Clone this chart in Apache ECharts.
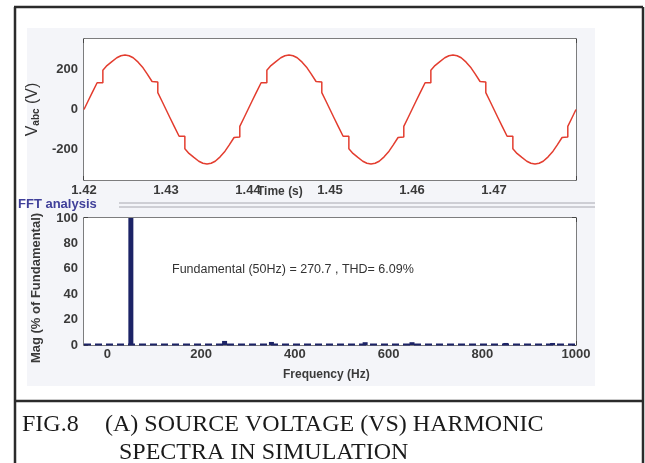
<!DOCTYPE html>
<html><head><meta charset="utf-8">
<script src="https://cdn.jsdelivr.net/npm/echarts@6/dist/echarts.min.js"></script>
<style>html,body{margin:0;padding:0;background:#fff}#c{width:645px;height:463px}</style>
</head><body><div id="c"></div>
<script>
// ---- Data: top plot, source voltage Vabc (V) vs time (s) ----
const timeS = [
1.4200,1.4205,1.4210,1.4216,1.4223,1.4223,1.4228,1.4234,1.4240,1.4245,1.4250,1.4255,1.4260,1.4266,1.4272,1.4277,1.4283,1.4290,1.4290,1.4295,
1.4300,1.4305,1.4310,1.4316,1.4323,1.4323,1.4328,1.4334,1.4340,1.4345,1.4350,1.4355,1.4360,1.4366,1.4372,1.4377,1.4383,1.4390,1.4390,1.4395,
1.4400,1.4405,1.4410,1.4416,1.4423,1.4423,1.4428,1.4434,1.4440,1.4445,1.4450,1.4455,1.4460,1.4466,1.4472,1.4477,1.4483,1.4490,1.4490,1.4495,
1.4500,1.4505,1.4510,1.4516,1.4523,1.4523,1.4528,1.4534,1.4540,1.4545,1.4550,1.4555,1.4560,1.4566,1.4572,1.4577,1.4583,1.4590,1.4590,1.4595,
1.4600,1.4605,1.4610,1.4616,1.4623,1.4623,1.4628,1.4634,1.4640,1.4645,1.4650,1.4655,1.4660,1.4666,1.4672,1.4677,1.4683,1.4690,1.4690,1.4695,
1.4700,1.4705,1.4710,1.4716,1.4723,1.4723,1.4728,1.4734,1.4740,1.4745,1.4750,1.4755,1.4760,1.4766,1.4772,1.4777,1.4783,1.4790,1.4790,1.4795,
1.4800];
const vabc = [
0,42,84,133,133,195,218,238,257,267,271,267,257,235,207,177,139,137,84,42,
0,-42,-84,-133,-133,-195,-218,-238,-257,-267,-271,-267,-257,-235,-207,-177,-139,-137,-84,-42,
0,42,84,133,133,195,218,238,257,267,271,267,257,235,207,177,139,137,84,42,
0,-42,-84,-133,-133,-195,-218,-238,-257,-267,-271,-267,-257,-235,-207,-177,-139,-137,-84,-42,
0,42,84,133,133,195,218,238,257,267,271,267,257,235,207,177,139,137,84,42,
0,-42,-84,-133,-133,-195,-218,-238,-257,-267,-271,-267,-257,-235,-207,-177,-139,-137,-84,-42,
0];
const timeTicks = [1.42,1.43,1.44,1.45,1.46,1.47,1.48];
const timeLabelTicks = [1.42,1.43,1.44,1.45,1.46,1.47];
const voltTicks = [-200,0,200];

// ---- Data: bottom plot, FFT spectrum ----
const harmHz  = [50, 250, 350, 550, 650, 850, 950];
const harmMag = [100, 3.2, 2.4, 2.2, 2.2, 1.6, 1.6];
const baseHz  = [-50, 1000];
const baseMag = [0.4, 0.4];
const freqTicks = [0,200,400,600,800,1000];
const magTicks = [0,20,40,60,80,100];
const fftNote = 'Fundamental (50Hz) = 270.7 , THD= 6.09%';
const caption1a = 'FIG.8';
const caption1b = '(A) SOURCE VOLTAGE (VS) HARMONIC';
const caption2 = 'SPECTRA IN SIMULATION';

const tickFont = {fontFamily:'Liberation Sans, Arial, sans-serif', fontWeight:'bold', fontSize:13, color:'#3a3a3a'};
const axisCol = '#555';
function frameAxis(grid, min, max, ticks, pos, labels, margin){
  return {type:'value', gridIndex:grid, min:min, max:max, position:pos,
    axisLine:{show:true, onZero:false, lineStyle:{color:axisCol, width:1.5}},
    axisTick:{show:true, inside:true, length:4, customValues:ticks, lineStyle:{color:'#333', width:1.5}},
    axisLabel:Object.assign({show:labels, customValues:ticks, margin:margin||5, formatter:v=>String(v)}, tickFont),
    splitLine:{show:false}};
}
const chart = echarts.init(document.getElementById('c'), null, {renderer:'canvas'});
const topX = frameAxis(0, 1.42, 1.48, timeTicks, 'bottom', true, 4);
topX.axisLabel.customValues = timeLabelTicks;
topX.axisLabel.formatter = v => v.toFixed(2);
const option = {
  animation:false,
  backgroundColor:'#ffffff',
  grid:[
    {left:84, right:69, top:39, height:141, show:true, backgroundColor:'#ffffff', borderWidth:0, z:1},
    {left:84, right:69, top:218, height:127, show:true, backgroundColor:'#ffffff', borderWidth:0, z:1}
  ],
  xAxis:[
    topX,
    frameAxis(0, 1.42, 1.48, timeTicks, 'top', false),
    frameAxis(1, -50, 1000, freqTicks, 'bottom', true, 3),
    frameAxis(1, -50, 1000, freqTicks, 'top', false)
  ],
  yAxis:[
    Object.assign(frameAxis(0, -350, 350, voltTicks, 'left', true, 6), {
      name:'V{s|abc} (V)', nameLocation:'middle', nameRotate:90, nameGap:42,
      nameTextStyle:{fontFamily:'Liberation Sans, Arial, sans-serif', fontSize:16, color:'#333',
        rich:{s:{fontSize:10, fontWeight:'bold', fontFamily:'Liberation Sans, Arial, sans-serif', color:'#333', verticalAlign:'bottom', padding:[7,0,0,0]}}}}),
    frameAxis(0, -350, 350, voltTicks, 'right', false),
    frameAxis(1, 0, 100, magTicks, 'left', true, 6),
    frameAxis(1, 0, 100, magTicks, 'right', false)
  ],
  series:[
    {type:'line', xAxisIndex:0, yAxisIndex:0, data:timeS.map((t,i)=>[t, vabc[i]]),
     showSymbol:false, lineStyle:{color:'#e33d2f', width:1.5}, z:3},
    {type:'line', xAxisIndex:2, yAxisIndex:2, data:baseHz.map((f,i)=>[f, baseMag[i]]),
     showSymbol:false, lineStyle:{color:'#1c2366', width:2, type:[7,4]}, z:3},
    {type:'bar', xAxisIndex:2, yAxisIndex:2, data:harmHz.map((f,i)=>[f, harmMag[i]]),
     barWidth:5, itemStyle:{color:'#1c2366'}, z:4}
  ],
  graphic:[
    {type:'rect', shape:{x:27, y:28, width:568, height:358}, style:{fill:'#f4f5f9'}, z:-10, silent:true},
    // frame
    {type:'line', shape:{x1:14, y1:7, x2:643, y2:7}, style:{stroke:'#2b2b2b', lineWidth:2.5}, z:50},
    {type:'line', shape:{x1:15, y1:7, x2:15, y2:463}, style:{stroke:'#2b2b2b', lineWidth:2.5}, z:50},
    {type:'line', shape:{x1:643, y1:7, x2:643, y2:463}, style:{stroke:'#2b2b2b', lineWidth:2.5}, z:50},
    {type:'line', shape:{x1:14, y1:401, x2:643, y2:401}, style:{stroke:'#2b2b2b', lineWidth:2.5}, z:50},
    // FFT analysis panel header
    {type:'text', left:18, top:198, style:{text:'FFT analysis', fontFamily:'Liberation Sans, Arial, sans-serif', fontWeight:'bold', fontSize:13, fill:'#40409a'}, z:20},
    {type:'line', shape:{x1:119, y1:203, x2:595, y2:203}, style:{stroke:'#a8a8b0', lineWidth:1}, z:20},
    {type:'line', shape:{x1:119, y1:207, x2:595, y2:207}, style:{stroke:'#a8a8b0', lineWidth:1}, z:20},
    // axis titles
    {type:'text', left:257, top:186, style:{text:'Time (s)', fontFamily:'Liberation Sans, Arial, sans-serif', fontWeight:'bold', fontSize:12, fill:'#3a3a3a'}, z:20},
    {type:'text', left:283, top:369, style:{text:'Frequency (Hz)', fontFamily:'Liberation Sans, Arial, sans-serif', fontWeight:'bold', fontSize:12, fill:'#3a3a3a'}, z:20},
    {type:'text', x:36, y:288, rotation:Math.PI/2, style:{text:'Mag (% of Fundamental)', fontFamily:'Liberation Sans Narrow, Arial Narrow, Liberation Sans, sans-serif', fontWeight:'bold', fontSize:13, fill:'#3a3a3a', align:'center', verticalAlign:'middle'}, z:20},
    {type:'text', left:172, top:263, style:{text:fftNote, fontFamily:'Liberation Sans, Arial, sans-serif', fontSize:12.5, fill:'#333'}, z:20},
    // caption
    {type:'text', left:22, top:413, style:{text:caption1a, fontFamily:'Liberation Serif, Times New Roman, serif', fontSize:24, fill:'#1a1a1a'}, z:20},
    {type:'text', left:105, top:413, style:{text:caption1b, fontFamily:'Liberation Serif, Times New Roman, serif', fontSize:24, fill:'#1a1a1a'}, z:20},
    {type:'text', left:119, top:441, style:{text:caption2, fontFamily:'Liberation Serif, Times New Roman, serif', fontSize:24, fill:'#1a1a1a'}, z:20}
  ]
};
chart.setOption(option);
</script></body></html>
